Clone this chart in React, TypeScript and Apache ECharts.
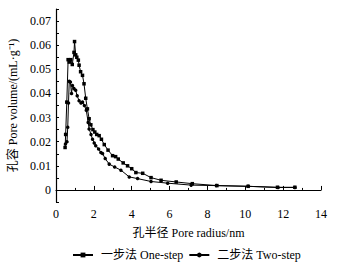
import React, { useEffect, useRef } from "react";
import * as echarts from "echarts";

const xTicks = [0, 2, 4, 6, 8, 10, 12, 14];
const yLabels = [0, 0.01, 0.02, 0.03, 0.04, 0.05, 0.06, 0.07];

const seriesNames = ["一步法 One-step", "二步法 Two-step"];

const oneStepX = [0.48, 0.51, 0.57, 0.64, 0.7, 0.78, 0.86, 0.95, 0.98, 1.04, 1.1, 1.18, 1.22, 1.3, 1.4, 1.48, 1.57, 1.66, 1.75, 1.84, 1.95, 2.05, 2.15, 2.28, 2.4, 2.55, 2.75, 2.99, 3.15, 3.29, 3.55, 3.78, 4.0, 4.22, 4.58, 5.02, 5.55, 6.35, 7.2, 8.5, 10.15, 11.7, 12.62];
const oneStepY = [0.0176, 0.023, 0.0364, 0.054, 0.053, 0.054, 0.052, 0.057, 0.0615, 0.056, 0.055, 0.0538, 0.0517, 0.049, 0.0475, 0.044, 0.038, 0.0336, 0.0295, 0.027, 0.025, 0.024, 0.023, 0.0225, 0.021, 0.0188, 0.0165, 0.0142, 0.0138, 0.0128, 0.0112, 0.01, 0.0088, 0.0072, 0.0069, 0.0051, 0.004, 0.0033, 0.0026, 0.0018, 0.0015, 0.0011, 0.0011];

const twoStepX = [0.5, 0.58, 0.62, 0.66, 0.7, 0.76, 0.82, 0.87, 0.95, 1.04, 1.12, 1.22, 1.32, 1.4, 1.5, 1.6, 1.7, 1.75, 1.85, 1.93, 2.02, 2.1, 2.25, 2.37, 2.46, 2.6, 2.81, 3.1, 3.43, 3.87, 4.31, 5.02, 5.9, 7.14, 8.47, 10.15, 11.73, 12.62];
const twoStepY = [0.019, 0.02, 0.026, 0.036, 0.045, 0.0447, 0.04, 0.0433, 0.042, 0.0413, 0.039, 0.037, 0.036, 0.0364, 0.035, 0.033, 0.028, 0.0253, 0.023, 0.021, 0.0195, 0.0183, 0.017, 0.0155, 0.0151, 0.013, 0.0107, 0.0095, 0.0082, 0.0054, 0.0047, 0.0035, 0.0028, 0.002, 0.0018, 0.0015, 0.001, 0.001];

const serif = "Liberation Serif";
const cjk = "'Liberation Serif', 'Noto Sans CJK SC'";

export default function App() {
  const ref = useRef<HTMLDivElement>(null);
  useEffect(() => {
    if (!ref.current) return;
    const chart = echarts.init(ref.current, null, { renderer: "svg" });
    const pair = (xs: number[], ys: number[]) => xs.map((x, i) => [x, ys[i]]);
    chart.setOption({
      animation: false,
      backgroundColor: "#fff",
      grid: { left: 56, right: 16, top: 9, bottom: 63, outerBoundsMode: "none", containLabel: false },
      legend: {
        bottom: 4,
        left: 72,
        padding: 0,
        itemWidth: 20,
        itemHeight: 6,
        itemGap: 5,
        textStyle: { fontFamily: cjk, fontSize: 12, color: "#000", padding: [0, 0, 0, 3] },
        data: seriesNames,
      },
      xAxis: {
        type: "value",
        min: xTicks[0],
        max: xTicks[xTicks.length - 1],
        interval: 2,
        name: "孔半径 Pore radius/nm",
        nameLocation: "middle",
        nameGap: 25,
        nameTextStyle: { fontFamily: cjk, fontSize: 12, color: "#000" },
        axisLine: { lineStyle: { color: "#000", width: 1.2 } },
        axisTick: { inside: true, length: 4, lineStyle: { color: "#000" } },
        minorTick: { show: true, splitNumber: 2, length: 2, lineStyle: { color: "#000" } },
        axisLabel: { fontFamily: serif, fontSize: 12, color: "#000", margin: 6 },
        splitLine: { show: false },
      },
      yAxis: {
        type: "value",
        min: -0.005,
        max: 0.075,
        interval: 0.005,
        name: "孔容 Pore volume/(mL·g⁻¹)",
        nameLocation: "middle",
        nameGap: 37,
        nameTextStyle: { fontFamily: cjk, fontSize: 12, color: "#000" },
        axisLine: { lineStyle: { color: "#000", width: 1.2 } },
        axisTick: { inside: true, length: 3, lineStyle: { color: "#000" } },
        axisLabel: {
          fontFamily: serif,
          fontSize: 12,
          color: "#000",
          margin: 5,
          formatter: (v: number) => {
            const hit = yLabels.find((l) => Math.abs(l - v) < 1e-6);
            return hit === undefined ? "" : hit === 0 ? "0" : hit.toFixed(2);
          },
        },
        splitLine: { show: false },
      },
      series: [
        {
          name: seriesNames[0],
          type: "line",
          data: pair(oneStepX, oneStepY),
          symbol: "rect",
          symbolSize: 3.5,
          itemStyle: { color: "#000" },
          lineStyle: { color: "#000", width: 1 },
        },
        {
          name: seriesNames[1],
          type: "line",
          data: pair(twoStepX, twoStepY),
          symbol: "circle",
          symbolSize: 3.5,
          itemStyle: { color: "#000" },
          lineStyle: { color: "#000", width: 1 },
        },
      ],
    });
    return () => chart.dispose();
  }, []);
  return <div ref={ref} style={{ width: 337, height: 265, position: "absolute", left: 0, top: 0 }} />;
}
